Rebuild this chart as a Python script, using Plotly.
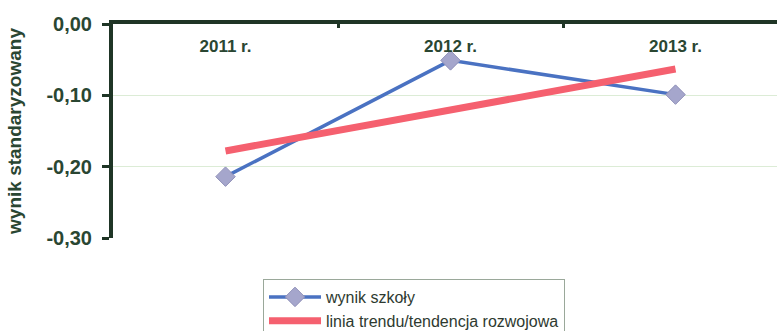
import plotly.graph_objects as go

categories = ["2011 r.", "2012 r.", "2013 r."]
school_result = [-0.214, -0.051, -0.099]
trend_line = [-0.178, -0.120, -0.063]
y_tickvals = [0.0, -0.1, -0.2, -0.3]
y_ticktext = ["0,00", "-0,10", "-0,20", "-0,30"]

FONT = "Liberation Sans, Arial, sans-serif"
TXT = "#2a4632"
AXIS = "#1f3526"

L, T, B, W, H = 113, 24, 93, 777, 331
plot_h = H - T - B
xrange_ = [-0.5, -0.5 + (W - L) / 225]

fig = go.Figure()
fig.add_trace(go.Scatter(
    x=categories, y=school_result, name="wynik szkoły",
    mode="lines+markers", xaxis="x", yaxis="y",
    line=dict(color="#4a72c2", width=3.5),
    marker=dict(symbol="diamond", size=15, color="#a5a6cc",
                line=dict(color="#8f90b8", width=1)),
))
fig.add_trace(go.Scatter(
    x=categories, y=trend_line, name="linia trendu/tendencja rozwojowa",
    mode="lines", xaxis="x2", yaxis="y",
    line=dict(color="#f5606f", width=7),
))

fig.update_layout(
    width=W, height=H,
    margin=dict(l=L, r=0, t=T, b=B, autoexpand=False),
    paper_bgcolor="white", plot_bgcolor="white",
    font=dict(family=FONT, color=TXT),
    showlegend=True,
    legend=dict(
        x=(263 - L) / (W - L), y=(plot_h + T - 279) / plot_h,
        xanchor="left", yanchor="top",
        bordercolor="#9aa89a", borderwidth=1,
        font=dict(size=16, color="#2e3a30"),
        traceorder="normal", tracegroupgap=0,
        itemwidth=52,
    ),
    xaxis=dict(
        type="category", range=xrange_,
        side="top", automargin=False,
        showline=True, linecolor=AXIS, linewidth=4,
        ticks="inside", ticklen=4, tickwidth=3, tickcolor=AXIS,
        tickson="boundaries",
        showticklabels=False,
        showgrid=False, zeroline=False, fixedrange=True,
    ),
    xaxis2=dict(
        type="category", range=xrange_,
        overlaying="x", anchor="free",
        position=(plot_h + T - 55) / plot_h,
        side="top", automargin=False,
        showline=False, ticks="",
        ticklabelstandoff=0,
        tickfont=dict(size=17, color=TXT, family=FONT, weight="bold"),
        showgrid=False, zeroline=False, fixedrange=True,
    ),
    xaxis3=dict(
        overlaying="x", side="bottom", anchor="y", automargin=False,
        showline=True, linecolor="#7a8a7a", linewidth=2,
        showticklabels=False, ticks="", showgrid=False, zeroline=False,
    ),
    yaxis=dict(
        range=[-0.30, 0.0], automargin=False,
        tickvals=y_tickvals, ticktext=y_ticktext,
        showline=True, linecolor=AXIS, linewidth=4,
        ticks="outside", ticklen=7, tickwidth=3, tickcolor=AXIS,
        ticklabelstandoff=6,
        tickfont=dict(size=20, color=TXT, family=FONT, weight="bold"),
        showgrid=True, gridcolor="#dcecd6", gridwidth=1,
        zeroline=False,
        title=dict(text="wynik standaryzowany", standoff=21,
                   font=dict(size=19, color=TXT, family=FONT, weight="bold")),
    ),
)

fig.write_html("out.html", config={"displayModeBar": False},
               post_script="document.body.style.margin='0';")
